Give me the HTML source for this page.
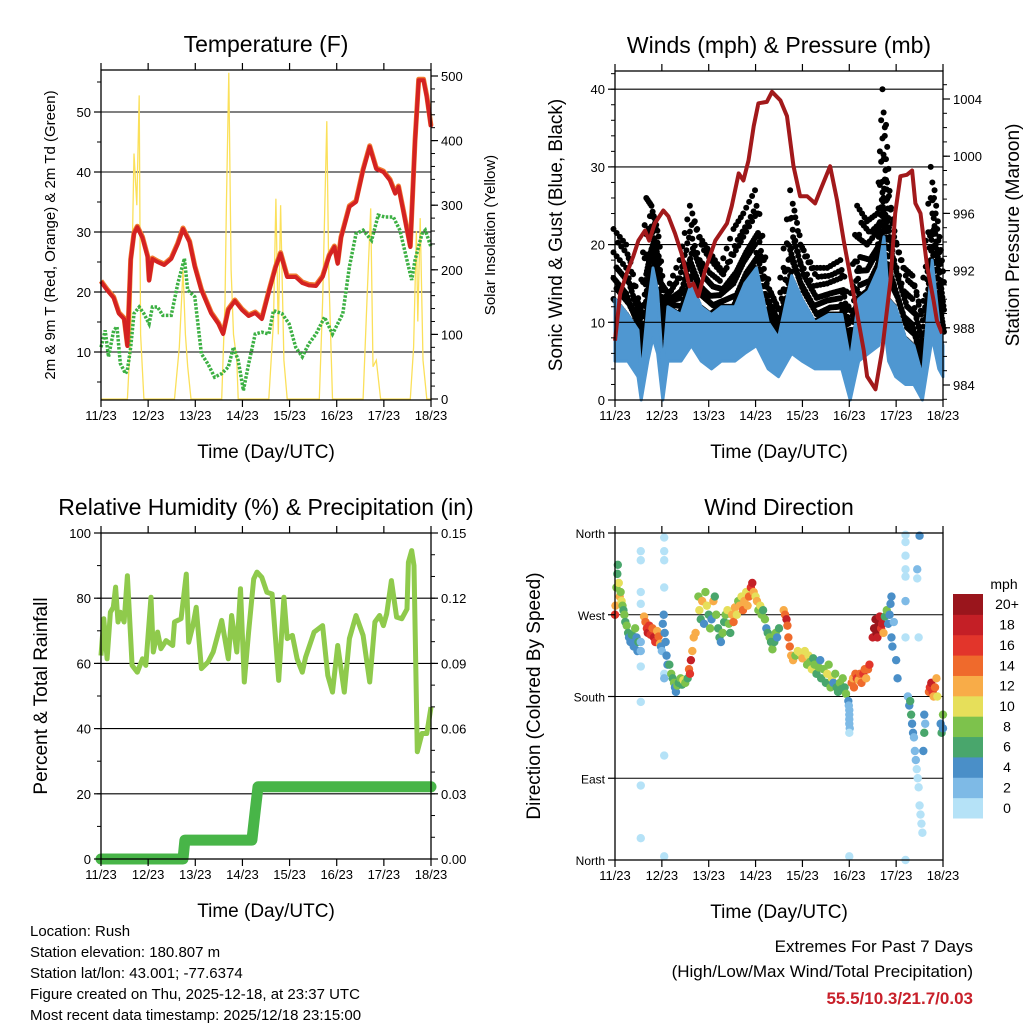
<!DOCTYPE html>
<html><head><meta charset="utf-8"><style>
html,body{margin:0;padding:0;background:#fff;}
svg{display:block;font-family:"Liberation Sans",Arial,sans-serif;}
</style></head><body>
<svg id="c" width="1024" height="1024" viewBox="0 0 1024 1024">
<rect width="1024" height="1024" fill="#fff"/>
<g font-size="15" fill="#000">
<text x="30" y="936">Location: Rush</text>
<text x="30" y="957">Station elevation: 180.807 m</text>
<text x="30" y="978">Station lat/lon: 43.001; -77.6374</text>
<text x="30" y="999">Figure created on Thu, 2025-12-18, at 23:37 UTC</text>
<text x="30" y="1020">Most recent data timestamp: 2025/12/18 23:15:00</text>
</g>
<g text-anchor="end">
<text x="973" y="952" font-size="17">Extremes For Past 7 Days</text>
<text x="973" y="977" font-size="17">(High/Low/Max Wind/Total Precipitation)</text>
<text x="973" y="1004" font-size="17" font-weight="bold" fill="#c8202a">55.5/10.3/21.7/0.03</text>
</g>
</svg>
<script>
// ---- data ----
const dayTicks = ["11/23","12/23","13/23","14/23","15/23","16/23","17/23","18/23"];
const tempDays = [0,.13,.27,.38,.49,.56,.63,.7,.77,.88,.99,1.02,1.09,1.2,1.34,1.49,1.63,1.74,1.88,1.99,2.13,2.34,2.49,2.59,2.7,2.84,2.99,3.13,3.27,3.41,3.56,3.7,3.81,3.95,4.13,4.27,4.41,4.56,4.7,4.84,4.95,5.02,5.09,5.27,5.41,5.56,5.7,5.84,5.99,6.13,6.24,6.31,6.41,6.56,6.66,6.74,6.84,6.91,7.0];
const tempVals = [21.7,20.3,19,16.4,15.5,11,25.3,29.7,30.8,29,25.8,21.9,25.5,25,24.5,25.5,28,30.5,28.3,24.2,20.3,16.4,14.7,13,17,18.5,17,16,16.5,15.5,20,24,26.4,22.5,22.5,21.5,21.1,21,22.5,26,27.5,24.7,29,34.2,35,40.3,44.2,40.5,40,38.6,36.4,37.5,33.6,27.5,45,55.3,55.3,52.5,47.5];
const dewDays = [0,.09,.16,.27,.34,.41,.52,.56,.63,.7,.81,.91,1.02,1.09,1.2,1.31,1.49,1.63,1.77,1.84,1.99,2.13,2.27,2.41,2.56,2.7,2.81,2.91,3.02,3.13,3.27,3.41,3.56,3.66,3.84,3.99,4.13,4.27,4.41,4.56,4.74,4.91,5.13,5.27,5.41,5.56,5.74,5.88,6.02,6.2,6.34,6.49,6.59,6.66,6.81,6.88,7.0];
const dewVals = [10.8,13.6,9.2,13.6,14.2,8.1,6.4,7,10.8,16.4,17.5,16.4,14.7,17.5,17.5,16.1,16.1,21.4,25.6,20.3,19.2,9.7,8,5.8,6.4,7.5,10.8,8.6,3.6,8,13,13.3,13,16.9,16.4,14.7,10.8,9.2,11.4,13,15.8,13,16.4,24.2,29.7,30.3,28.6,32.8,32.5,32.5,30.3,25.3,22,25.3,29.7,30.3,27.5];
const solarDays = [0,.56,.63,.7,.76,.81,.84,.91,1.56,1.66,1.74,1.79,1.84,1.91,2.56,2.63,2.66,2.71,2.76,2.81,2.88,2.91,3.56,3.66,3.71,3.76,3.81,3.88,3.95,4.63,4.7,4.79,4.83,4.91,5.56,5.64,5.72,5.77,5.84,5.93,6.56,6.63,6.69,6.72,6.77,6.83,6.91,7.0];
const solarVals = [0,0,100,380,300,470,100,0,0,80,200,100,50,0,0,150,300,505,200,100,60,0,0,120,310,100,300,60,0,0,150,430,200,0,0,150,295,50,60,0,0,80,260,120,280,60,0,0];
const windDays = [0,.27,.49,.56,.7,.81,.91,1.02,1.13,1.41,1.63,1.84,2.06,2.27,2.56,2.77,3.02,3.27,3.49,3.77,3.99,4.27,4.56,4.84,5.02,5.2,5.41,5.63,5.74,5.84,5.99,6.2,6.38,6.56,6.77,6.91,7.0];
const windHigh = [13,11,9,3,12,17,14,4,12,11,15,12,11,12,12,15,17,10,8,16,13,10,11,11,5,13,14,17,21,13,12,8,7,3,18,10,7];
const windLow = [5,5,3,0,5,8,6,0,5,5,7,5,4,5,5,6,7,4,3,6,5,4,4,4,0,5,6,7,10,5,3,2,2,0,8,4,3];
const gustVals = [22,20,13,12,26,25,22,15,14,18,25,21,19,17,22,24,27,15,12,27,20,17,17,18,10,25,23,24,40,28,21,17,16,11,30,22,16];
const presDays = [0,.11,.25,.39,.5,.64,.73,.85,1.03,1.14,1.28,1.42,1.59,1.67,1.78,1.92,2.14,2.39,2.49,2.64,2.74,2.85,2.96,3.06,3.24,3.35,3.53,3.67,3.81,3.95,4.1,4.27,4.38,4.59,4.74,4.88,5.09,5.31,5.38,5.56,5.7,5.88,5.98,6.09,6.23,6.34,6.41,6.52,6.66,6.8,6.87,6.98];
const presVals = [987.1,990.4,991.8,993.0,994.1,994.8,994.1,995.3,996.2,995.8,994.6,993.2,990.9,991.1,990.2,992.0,994.1,995.3,996.5,998.8,998.3,999.7,1002.1,1003.7,1003.8,1004.5,1003.9,1002.8,999.3,997.2,997.2,996.7,997.6,999.3,996.9,994.1,990.4,986.4,984.6,983.7,986.4,991.3,996.0,998.6,998.7,999.0,996.7,996.0,992.3,989.9,988.5,987.6];
const rhDays = [0,.06,.13,.2,.26,.31,.36,.41,.49,.56,.66,.77,.88,.95,1.06,1.11,1.2,1.27,1.38,1.52,1.56,1.7,1.74,1.81,1.86,1.95,2.02,2.13,2.27,2.38,2.56,2.7,2.77,2.88,2.96,3.04,3.13,3.24,3.31,3.41,3.52,3.63,3.77,3.88,3.95,4.06,4.16,4.27,4.34,4.52,4.7,4.81,4.91,5.02,5.16,5.27,5.41,5.56,5.7,5.81,5.91,5.99,6.06,6.16,6.27,6.38,6.49,6.52,6.59,6.64,6.71,6.81,6.91,7.0];
const rhVals = [62.4,73.7,61.4,75.7,77.2,83.4,72.7,75.7,72.7,86.9,59.4,57.3,61.4,59.4,80.3,63.5,69.6,64.5,67,65.5,72.7,73.7,78.8,87.4,66.5,71.6,77.2,58.4,60.4,63.5,73.2,61.4,74.7,63.5,82.9,54.3,69.6,85.9,88,86.4,81.8,81.3,54.8,80.3,67.6,68.6,61.4,57.3,61.9,69.6,71.6,56.3,51.2,65.5,51.2,67.6,74.7,68.6,54.3,72.7,74.7,71.6,75.2,85.4,74.2,73.7,76.7,91,94.6,90,32.9,38.5,38.5,46.6];
const precipDays = [0,1.74,1.78,3.2,3.26,3.33,7.0];
const precipVals = [0,0,0.0087,0.0087,0.02,0.0332,0.0332];
const dirPoints = [[0,270,16],[.01,280,12],[.03,300,8],[.05,315,6],[.06,325,6],[.08,305,10],[.1,290,12],[.12,295,8],[.14,285,10],[.16,280,8],[.18,275,6],[.2,270,8],[.22,262,6],
[.25,258,8],[.28,250,6],[.3,245,4],[.33,240,4],[.36,248,6],[.4,235,4],[.43,255,8],[.46,245,4],[.48,230,4],[.5,240,6],
[.55,340,0],[.55,330,0],[.55,295,0],[.55,282,0],[.55,213,0],[.55,174,1],[.55,82,0],[.55,24,0],[.55,240,3],[.55,230,3],
[.62,268,12],[.65,262,14],[.68,255,16],[.7,250,18],[.73,258,16],[.76,248,16],[.8,255,14],[.83,245,18],[.86,240,16],[.9,252,12],[.93,246,14],[.96,238,12],
[.98,235,4],[1,230,3],[1.02,260,4],[1.04,270,4],[1.06,250,5],[1.08,240,4],[1.1,225,4],[1.12,215,4],
[1.05,355,0],[1.05,340,0],[1.05,330,0],[1.05,300,1],[1.05,205,1],[1.05,200,2],[1.05,115,0],[1.05,4,0],
[1.16,215,6],[1.2,205,8],[1.23,200,6],[1.26,195,8],[1.28,190,4],[1.3,185,4],[1.33,192,8],[1.36,195,6],[1.4,200,8],[1.43,193,6],[1.46,198,10],[1.5,195,8],[1.55,200,6],[1.58,210,14],[1.6,205,16],[1.62,220,18],[1.65,230,12],[1.68,245,12],[1.72,250,12],
[1.78,290,8],[1.8,275,10],[1.83,265,6],[1.86,285,12],[1.9,260,4],[1.93,295,8],[1.96,280,10],[2,270,6],[2.03,255,8],[2.06,265,4],[2.1,285,12],[2.13,290,6],[2.16,270,8],[2.2,255,6],[2.23,245,6],[2.26,240,4],[2.3,250,8],[2.33,262,6],[2.36,270,8],[2.4,275,10],[2.43,260,8],[2.46,250,6],[2.5,270,12],[2.53,262,14],[2.56,278,12],[2.6,270,10],[2.63,285,8],
[2.66,280,12],[2.7,290,10],[2.73,275,14],[2.76,285,12],[2.8,295,10],[2.83,280,12],[2.86,290,14],[2.9,300,16],[2.93,305,18],[2.96,295,12],[3,290,10],[3.03,285,12],[3.06,275,8],[3.1,280,10],[3.13,270,8],
[3.16,275,6],[3.2,265,8],[3.23,255,4],[3.26,250,6],[3.3,245,8],[3.33,240,6],[3.36,232,8],[3.4,240,6],[3.43,250,8],[3.46,245,4],[3.5,255,6],
[3.6,275,12],[3.63,270,14],[3.66,265,18],[3.68,258,14],[3.7,245,14],[3.73,235,14],[3.76,225,12],[3.8,220,12],
[3.85,225,8],[3.9,230,10],[3.95,228,10],[4,222,12],[4.05,230,10],[4.1,215,8],[4.13,225,10],[4.16,218,8],[4.2,210,10],[4.23,222,6],[4.26,215,8],[4.3,205,6],[4.35,212,8],[4.38,220,4],[4.4,200,6],[4.45,210,8],[4.5,195,6],[4.53,205,10],[4.56,215,8],[4.6,190,8],[4.63,200,10],[4.66,195,4],[4.7,205,8],[4.73,190,6],[4.76,185,6],[4.8,195,8],[4.83,188,6],[4.86,200,8],[4.9,190,6],[4.93,183,8],
[4.98,175,4],[4.99,170,3],[5,160,2],[5,155,2],[5,150,2],[5.01,145,2],[5,140,1],[5,165,3],[5,4,0],
[5.05,195,14],[5.08,200,12],[5.1,190,14],[5.13,205,14],[5.16,200,16],[5.2,198,12],[5.23,205,14],[5.26,195,14],[5.3,205,16],[5.33,210,14],[5.36,200,12],[5.4,210,14],[5.43,215,16],
[5.5,245,18],[5.53,255,20],[5.56,265,20],[5.58,250,20],[5.6,245,18],[5.62,258,20],[5.65,268,18],[5.68,255,16],[5.7,260,18],[5.73,250,12],
[5.76,268,6],[5.8,275,8],[5.83,260,4],[5.86,270,4],[5.9,245,4],[5.92,235,4],[5.95,262,2],[5.9,290,4],[5.88,282,4],[6,220,4],[6.03,200,4],
[6.2,358,0],[6.2,350,0],[6.2,335,0],[6.2,320,0],[6.2,312,0],[6.2,285,2],[6.2,245,1],[6.2,0,0],[6.5,357,4],[6.45,320,3],[6.45,310,1],[6.48,245,1],
[6.25,180,3],[6.28,170,4],[6.3,175,6],[6.32,160,6],[6.34,150,4],[6.36,140,4],[6.38,135,2],[6.4,120,2],[6.42,110,2],[6.44,100,1],[6.46,90,1],[6.48,80,1],[6.5,60,1],[6.52,50,1],[6.54,40,1],[6.56,30,1],[6.58,120,4],[6.6,140,6],[6.6,160,4],[6.62,150,3],
[6.7,185,14],[6.72,190,16],[6.75,195,18],[6.78,185,16],[6.8,180,12],[6.83,190,14],[6.86,200,12],[6.88,180,10],
[6.95,150,4],[6.97,140,6],[7,145,4],[7,160,8]];
const speedColors = ["#b5e2f7","#7ebae6","#4a8fc8","#49a66c","#7dc24c","#e6df5a","#f8ac48","#ef6a2c","#e2352b","#c41f26","#9a151c"];
const speedLabels = ["0","2","4","6","8","10","12","14","16","18","20+"];
const tempTicks = [10,20,30,40,50];
const solarTicks = [0,100,200,300,400,500];
const windTicks = [0,10,20,30,40];
const presTicks = [984,988,992,996,1000,1004];
const rhTicks = [0,20,40,60,80,100];
const precipTicks = ["0.00","0.03","0.06","0.09","0.12","0.15"];
const dirTicks = ["North","East","South","West","North"];

// ---- helpers ----
const svg = document.getElementById('c');
const NS = 'http://www.w3.org/2000/svg';
function mk(tag, attrs, parent){ const e=document.createElementNS(NS,tag); for(const k in attrs) e.setAttribute(k,attrs[k]); (parent||svg).appendChild(e); return e; }
function txt(x,y,s,size,anchor,parent,rot){ const t=mk('text',{x:x,y:y,'font-size':size,'text-anchor':anchor||'middle'},parent); if(rot) t.setAttribute('transform','rotate(-90 '+x+' '+y+')'); t.textContent=s; return t; }
function poly(xs, ys){ return xs.map((x,i)=>x.toFixed(1)+','+ys[i].toFixed(1)).join(' '); }

function panelFrame(p, name){
  const g = mk('g',{});
  
  
  return g;
}
function xAxis(g, p){
  const xg = mk('g',{},g);
  
  
  dayTicks.forEach((lab,i)=>{
    const x = p.x0 + i*(p.x1-p.x0)/7;
    mk('line',{x1:x,y1:p.y1,x2:x,y2:p.y1+7,stroke:'#000','stroke-width':1.2},xg);
    mk('line',{x1:x,y1:p.y0,x2:x,y2:p.y0-7,stroke:'#000','stroke-width':1.2},xg);
    const t = txt(x,p.y1+20,lab,13,'middle',xg);
    
    
  });
  const tt = txt((p.x0+p.x1)/2,p.y1+58,'Time (Day/UTC)',19,'middle',xg);
  
  
}
function box(g,p){ mk('rect',{x:p.x0,y:p.y0,width:p.x1-p.x0,height:p.y1-p.y0,fill:'none',stroke:'#000','stroke-width':1.3},g); }
function grid(g,p,ys){ ys.forEach(y=>mk('line',{x1:p.x0,x2:p.x1,y1:y,y2:y,stroke:'#000','stroke-width':1.1},g)); }
function yTicks(g,p,side,vals,yf,labels,size){
  const ag = mk('g',{},g);
  
  
  vals.forEach((v,i)=>{
    const y=yf(v);
    if(side==='l'){ mk('line',{x1:p.x0-7,x2:p.x0,y1:y,y2:y,stroke:'#000','stroke-width':1.2},ag); const t=txt(p.x0-10,y+5,labels[i],size||13,'end',ag);   }
    else { mk('line',{x1:p.x1,x2:p.x1+7,y1:y,y2:y,stroke:'#000','stroke-width':1.2},ag); const t=txt(p.x1+10,y+5,labels[i],size||13,'start',ag);   }
  });
}
function minorTicks(g,p,side,y0,y1,step,yf){
  for(let v=y0; v<=y1+1e-9; v+=step){ const y=yf(v); if(y<p.y0-0.5||y>p.y1+0.5) continue;
    if(side==='r') mk('line',{x1:p.x1,x2:p.x1+4,y1:y,y2:y,stroke:'#000','stroke-width':1},g);
    else mk('line',{x1:p.x0-4,x2:p.x0,y1:y,y2:y,stroke:'#000','stroke-width':1},g); }
}
function title(g,p,s){ const t=txt((p.x0+p.x1)/2,p.y0-18,s,23,'middle',g);   }

// ---- Panel 1: Temperature ----
(function(){
  const p={x0:101,x1:431,y0:70,y1:400};
  const g=panelFrame(p,'temperature-panel');
  const X=d=>p.x0+d*(p.x1-p.x0)/7;
  const Y=v=>p.y1-(v-2)*6;
  const S=w=>399-w*0.646;
  grid(g,p,tempTicks.map(Y));
  const sl=mk('polyline',{points:poly(solarDays.map(X),solarVals.map(S)),fill:'none',stroke:'#fbe05a','stroke-width':1.3},g);
   
  const ol=mk('polyline',{points:poly(tempDays.map(X),tempVals.map(v=>Y(v)-1)),fill:'none',stroke:'#f07a30','stroke-width':5,'stroke-linejoin':'round'},g);
   
  const rl=mk('polyline',{points:poly(tempDays.map(X),tempVals.map(Y)),fill:'none',stroke:'#d42222','stroke-width':4,'stroke-linejoin':'round'},g);
   
  const dl=mk('polyline',{points:poly(dewDays.map(X),dewVals.map(Y)),fill:'none',stroke:'#3cb043','stroke-width':3.5,'stroke-dasharray':'2.5 1.5'},g);
   
  box(g,p); xAxis(g,p);
  yTicks(g,p,'l',tempTicks,Y,tempTicks.map(String));
  minorTicks(g,p,'l',5,55,5,Y);
  yTicks(g,p,'r',solarTicks,S,solarTicks.map(String));
  minorTicks(g,p,'r',0,500,20,S);
  title(g,p,'Temperature (F)');
  const a=txt(55,235,'2m & 9m T (Red, Orange) & 2m Td (Green)',15,'middle',g,true);  
  const b=txt(495,235,'Solar Insolation (Yellow)',15,'middle',g,true);  
})();

// ---- Panel 2: Winds & Pressure ----
(function(){
  const p={x0:615,x1:943,y0:71,y1:400};
  const g=panelFrame(p,'winds-pressure-panel');
  const X=d=>p.x0+d*(p.x1-p.x0)/7;
  const Y=v=>p.y1-v*7.77;
  const P=v=>385-(v-984)*14.3;
  const gx=windDays.map(X);
  // dense black gust dots between wind top and gust value
  const gg=mk('g',{},g);
  
  
  for(let i=0;i<windDays.length-1;i++){
    for(let s=0;s<8;s++){
      const t=s/8;
      const x=gx[i]+(gx[i+1]-gx[i])*t;
      const hi=windHigh[i]+(windHigh[i+1]-windHigh[i])*t;
      const gu=gustVals[i]+(gustVals[i+1]-gustVals[i])*t;
      const span=gu-hi;
      for(let k=0;k<=6;k++){
        const f=k/6;
        if(f>0.55 && ((s+k)%2)) continue;
        const c=mk('circle',{cx:x+((k%2)?1.5:-1.5),cy:Y(hi+span*f*(f>0.55?1:0.9)),r:3,fill:'#000'},gg);
        
        
      }
    }
  }
  const wp=mk('polygon',{points:poly(gx.concat(gx.slice().reverse()),windHigh.map(Y).concat(windLow.map(Y).reverse())),fill:'#4f97d1',stroke:'#4f97d1','stroke-width':3,'stroke-linejoin':'round'},g);
   
  grid(g,p,[10,20,30,40].map(Y).concat([p.y0]));
  const pl=mk('polyline',{points:poly(presDays.map(X),presVals.map(P)),fill:'none',stroke:'#a2191b','stroke-width':4,'stroke-linejoin':'round'},g);
   
  box(g,p); xAxis(g,p);
  yTicks(g,p,'l',windTicks,Y,windTicks.map(String));
  minorTicks(g,p,'l',0,42,2,Y);
  yTicks(g,p,'r',presTicks,P,presTicks.map(String));
  minorTicks(g,p,'r',983,1005,1,P);
  title(g,p,'Winds (mph) & Pressure (mb)');
  const a=txt(562,235,'Sonic Wind & Gust (Blue, Black)',19,'middle',g,true);  
  const b=txt(1019,235,'Station Pressure (Maroon)',19,'middle',g,true);  
})();

// ---- Panel 3: RH & Precip ----
(function(){
  const p={x0:101,x1:431,y0:533,y1:859};
  const g=panelFrame(p,'humidity-precip-panel');
  const X=d=>p.x0+d*(p.x1-p.x0)/7;
  const Y=v=>p.y1-v*3.26;
  const R=v=>p.y1-v/0.15*326;
  grid(g,p,[20,40,60,80].map(Y));
  const pr=mk('polyline',{points:poly(precipDays.map(X),precipVals.map(R)),fill:'none',stroke:'#48b548','stroke-width':11,'stroke-linecap':'round','stroke-linejoin':'round'},g);
   
  const rl=mk('polyline',{points:poly(rhDays.map(X),rhVals.map(Y)),fill:'none',stroke:'#8fca4c','stroke-width':5,'stroke-linejoin':'round'},g);
   
  box(g,p); xAxis(g,p);
  yTicks(g,p,'l',rhTicks,Y,rhTicks.map(String));
  minorTicks(g,p,'l',0,100,10,Y);
  yTicks(g,p,'r',precipTicks.map(Number),R,precipTicks);
  minorTicks(g,p,'r',0,0.15,0.01,R);
  title(g,p,'Relative Humidity (%) & Precipitation (in)');
  const a=txt(47,696,'Percent & Total Rainfall',19,'middle',g,true);  
})();

// ---- Panel 4: Wind Direction ----
(function(){
  const p={x0:615,x1:943,y0:533,y1:860};
  const g=panelFrame(p,'wind-direction-panel');
  const X=d=>p.x0+d*(p.x1-p.x0)/7;
  const Y=v=>p.y1-v/360*(p.y1-p.y0);
  grid(g,p,[90,180,270].map(Y));
  dirPoints.forEach(pt=>{
    const ci=Math.min(10,Math.floor(pt[2]/2));
    const c=mk('circle',{cx:X(pt[0]),cy:Y(pt[1]),r:4.2,fill:speedColors[ci]},g);
    
    
  });
  box(g,p); xAxis(g,p);
  yTicks(g,p,'l',[0,90,180,270,360],Y,dirTicks,12);
  title(g,p,'Wind Direction');
  const a=txt(540,696,'Direction (Colored By Speed)',19,'middle',g,true);  
  const lg=mk('g',{},g);
  
  
  const lt=txt(1004,589,'mph',14,'middle',lg);  
  const bh=(818-594)/11;
  for(let i=0;i<11;i++){
    const y=594+(10-i)*bh;
    const r=mk('rect',{x:953,y:y,width:30,height:bh+0.5,fill:speedColors[i]},lg);
    
    
    const t=txt(1007,y+bh/2+5,speedLabels[i],14,'middle',lg);
    
    
  }
})();
</script>
</body></html>
